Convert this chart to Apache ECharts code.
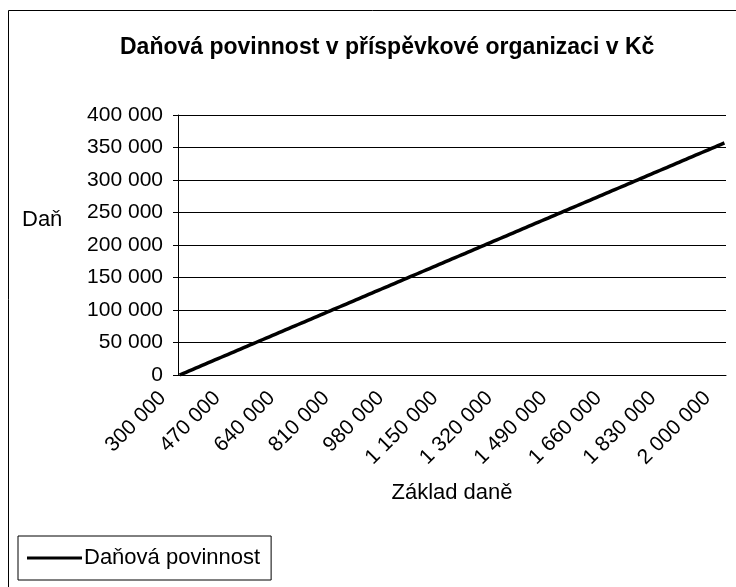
<!DOCTYPE html>
<html>
<head>
<meta charset="utf-8">
<script src="https://cdn.jsdelivr.net/npm/echarts@6/dist/echarts.min.js"></script>
<style>
  html, body { margin: 0; padding: 0; background: #fff; }
  #chart { width: 736px; height: 587px; }
</style>
</head>
<body>
<div id="chart"></div>
<script>
// zaklad dane (Kc)
var zaklad = [
  300000, 310000, 320000, 330000, 340000, 350000, 360000, 370000, 380000, 390000,
  400000, 410000, 420000, 430000, 440000, 450000, 460000, 470000, 480000, 490000,
  500000, 510000, 520000, 530000, 540000, 550000, 560000, 570000, 580000, 590000,
  600000, 610000, 620000, 630000, 640000, 650000, 660000, 670000, 680000, 690000,
  700000, 710000, 720000, 730000, 740000, 750000, 760000, 770000, 780000, 790000,
  800000, 810000, 820000, 830000, 840000, 850000, 860000, 870000, 880000, 890000,
  900000, 910000, 920000, 930000, 940000, 950000, 960000, 970000, 980000, 990000,
  1000000, 1010000, 1020000, 1030000, 1040000, 1050000, 1060000, 1070000, 1080000, 1090000,
  1100000, 1110000, 1120000, 1130000, 1140000, 1150000, 1160000, 1170000, 1180000, 1190000,
  1200000, 1210000, 1220000, 1230000, 1240000, 1250000, 1260000, 1270000, 1280000, 1290000,
  1300000, 1310000, 1320000, 1330000, 1340000, 1350000, 1360000, 1370000, 1380000, 1390000,
  1400000, 1410000, 1420000, 1430000, 1440000, 1450000, 1460000, 1470000, 1480000, 1490000,
  1500000, 1510000, 1520000, 1530000, 1540000, 1550000, 1560000, 1570000, 1580000, 1590000,
  1600000, 1610000, 1620000, 1630000, 1640000, 1650000, 1660000, 1670000, 1680000, 1690000,
  1700000, 1710000, 1720000, 1730000, 1740000, 1750000, 1760000, 1770000, 1780000, 1790000,
  1800000, 1810000, 1820000, 1830000, 1840000, 1850000, 1860000, 1870000, 1880000, 1890000,
  1900000, 1910000, 1920000, 1930000, 1940000, 1950000, 1960000, 1970000, 1980000, 1990000,
  2000000
];
// danova povinnost (Kc)
var dan = [
  0, 2100, 4200, 6300, 8400, 10500, 12600, 14700, 16800, 18900,
  21000, 23100, 25200, 27300, 29400, 31500, 33600, 35700, 37800, 39900,
  42000, 44100, 46200, 48300, 50400, 52500, 54600, 56700, 58800, 60900,
  63000, 65100, 67200, 69300, 71400, 73500, 75600, 77700, 79800, 81900,
  84000, 86100, 88200, 90300, 92400, 94500, 96600, 98700, 100800, 102900,
  105000, 107100, 109200, 111300, 113400, 115500, 117600, 119700, 121800, 123900,
  126000, 128100, 130200, 132300, 134400, 136500, 138600, 140700, 142800, 144900,
  147000, 149100, 151200, 153300, 155400, 157500, 159600, 161700, 163800, 165900,
  168000, 170100, 172200, 174300, 176400, 178500, 180600, 182700, 184800, 186900,
  189000, 191100, 193200, 195300, 197400, 199500, 201600, 203700, 205800, 207900,
  210000, 212100, 214200, 216300, 218400, 220500, 222600, 224700, 226800, 228900,
  231000, 233100, 235200, 237300, 239400, 241500, 243600, 245700, 247800, 249900,
  252000, 254100, 256200, 258300, 260400, 262500, 264600, 266700, 268800, 270900,
  273000, 275100, 277200, 279300, 281400, 283500, 285600, 287700, 289800, 291900,
  294000, 296100, 298200, 300300, 302400, 304500, 306600, 308700, 310800, 312900,
  315000, 317100, 319200, 321300, 323400, 325500, 327600, 329700, 331800, 333900,
  336000, 338100, 340200, 342300, 344400, 346500, 348600, 350700, 352800, 354900,
  357000
];

var font = "'Liberation Sans', Arial, sans-serif";

//cislo s mezerami po tisicich
function fmt(v){
	return String(v).replace(/\B(?=(\d{3})+(?!\d))/g, ' ');
}

var chart = echarts.init(document.getElementById('chart'));
chart.setOption({
	animation: false,
	title: {
		text: 'Daňová povinnost v příspěvkové organizaci v Kč',
		left: 115,
		top: 31,
		textStyle: { fontFamily: font, fontSize: 23, fontWeight: 'bold', color: '#000' }
	},
	legend: {
		data: ['Daňová povinnost'],
		left: 18,
		top: 536,
		orient: 'horizontal',
		borderColor: '#000',
		borderWidth: 1,
		borderRadius: 0,
		padding: [11, 11, 11, 9],
		icon: 'rect',
		itemWidth: 55,
		itemHeight: 3,
		itemGap: 5,
		textStyle: { fontFamily: font, fontSize: 22, color: '#000', padding: [0, 0, 0, -3] }
	},
	graphic: [
		{
			type: 'rect',
			shape: { x: 8.5, y: 10.5, width: 800, height: 700 },
			style: { fill: null, stroke: '#000', lineWidth: 1 },
			silent: true
		},
		{
			type: 'text',
			left: 22,
			top: 209,
			style: { text: 'Daň', fontFamily: font, fontSize: 22, fill: '#000' }
		}
	],
	grid: {
		left: 178,
		right: 10,
		top: 115,
		bottom: 212
	},
	xAxis: {
		type: 'category',
		data: zaklad,
		name: 'Základ daně',
		nameLocation: 'middle',
		nameGap: 107,
		nameTextStyle: { fontFamily: font, fontSize: 22, color: '#000' },
		axisLine: { lineStyle: { color: '#000', width: 1 } },
		axisTick: { interval: 0, length: 5, lineStyle: { color: '#000' } },
		axisLabel: {
			interval: 16,
			rotate: 45,
			margin: 3,
			padding: [0, 24, 0, 0],
			fontFamily: font,
			fontSize: 21,
			color: '#000',
			formatter: function(v){ return fmt(v); }
		},
		splitLine: { show: false }
	},
	yAxis: {
		type: 'value',
		min: 0,
		max: 400000,
		interval: 50000,
		axisLine: { show: true, lineStyle: { color: '#000', width: 1 } },
		axisTick: { show: true, length: 5, lineStyle: { color: '#000' } },
		axisLabel: {
			margin: 15,
			fontFamily: font,
			fontSize: 21,
			color: '#000',
			formatter: function(v){ return fmt(v); }
		},
		splitLine: { show: true, lineStyle: { color: '#000', width: 1 } }
	},
	series: [
		{
			name: 'Daňová povinnost',
			type: 'line',
			data: dan,
			showSymbol: false,
			symbol: 'none',
			lineStyle: { color: '#000', width: 3.5 },
			itemStyle: { color: '#000' }
		}
	]
});
</script>
</body>
</html>
